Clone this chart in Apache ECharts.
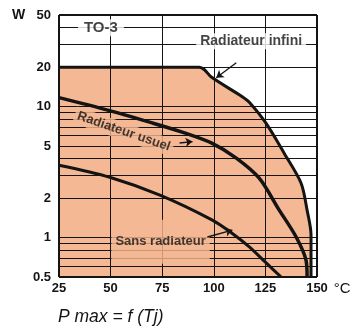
<!DOCTYPE html>
<html><head><meta charset="utf-8">
<script src="https://cdn.jsdelivr.net/npm/echarts@6/dist/echarts.min.js"></script>
<style>html,body{margin:0;padding:0;background:#fff}#c{width:354px;height:329px}</style>
</head><body><div id="c"></div>
<script>
// ---- data ----
const xTicks = [25, 50, 75, 100, 125, 150];
const yTicks = [0.5, 1, 2, 5, 10, 20, 50];
const hGrid = [40, 30, 20, 10, 9, 8, 7, 6, 5, 4, 3, 2, 1, 0.9, 0.8, 0.7, 0.6];
const vGrid = [50, 75, 100, 125];
const infiniT = [25, 93, 95.5, 98.8, 113.8, 117.2, 125.2, 134.1, 142.3, 145.2, 147.1, 147.1];
const infiniP = [20, 20, 19.1, 16.8, 11.9, 10.8, 7.5, 4.4, 2.6, 1.62, 1.05, 0.5];
const usuelT = [25, 48.6, 68.9, 85.8, 98.8, 110.9, 122, 131.7, 139.9, 144.7, 145.2];
const usuelP = [11.7, 9.4, 7.6, 6.3, 5.28, 4.04, 2.84, 1.62, 1.01, 0.67, 0.5];
const sansT = [25, 49.6, 74.2, 99.3, 108.5, 117.2, 125.4, 132.6];
const sansP = [3.57, 2.89, 2.1, 1.36, 1.09, 0.85, 0.64, 0.5];

const zip = (a, b) => a.map((v, i) => [v, b[i]]);
const FONT = "'Liberation Sans', Arial, sans-serif";
const INK = '#141414';
const PEACH = '#f4b894';

const chart = echarts.init(document.getElementById('c'), null, {renderer: 'canvas'});
chart.setOption({
  animation: false,
  backgroundColor: '#fff',
  textStyle: {fontFamily: FONT},
  title: [
    {text: 'P max = f (Tj)', left: 58, top: 308, padding: 0,
     textStyle: {fontStyle: 'italic', fontWeight: 'normal', fontSize: 17.5, color: INK, fontFamily: FONT}},
    {text: 'W', left: 12, top: 8, padding: 0,
     textStyle: {fontWeight: 'bold', fontSize: 14, color: INK, fontFamily: FONT}}
  ],
  grid: {left: 59, top: 15, width: 258, height: 262, show: false},
  xAxis: {
    type: 'value', min: 25, max: 150, interval: 25,
    axisLine: {show: false}, axisTick: {show: false}, splitLine: {show: false},
    axisLabel: {margin: 5, fontSize: 13, fontWeight: 'bold', color: INK, fontFamily: FONT, customValues: xTicks},
    name: '°C', nameLocation: 'end', nameGap: 12,
    nameTextStyle: {fontSize: 15, color: INK, fontFamily: FONT, verticalAlign: 'top', padding: [4, 0, 0, 0]}
  },
  yAxis: {
    type: 'log', logBase: 10, min: 0.5, max: 50,
    axisLine: {show: false}, axisTick: {show: false}, splitLine: {show: false}, minorSplitLine: {show: false},
    axisLabel: {margin: 8, fontSize: 13, fontWeight: 'bold', color: INK, fontFamily: FONT,
                customValues: yTicks, formatter: v => String(v)}
  },
  series: [
    {
      name: 'fill', type: 'line', z: 1, silent: true,
      data: zip(infiniT, infiniP), smooth: 0.3, symbol: 'none',
      lineStyle: {width: 0}, areaStyle: {color: PEACH, opacity: 1, origin: 'start'}
    },
    {
      name: 'grid', type: 'line', z: 2, silent: true, data: [[25, 0.5]], symbol: 'none', lineStyle: {width: 0},
      markLine: {
        z: 2, silent: true, symbol: ['none', 'none'], label: {show: false}, animation: false,
        lineStyle: {color: INK, width: 1, type: 'solid'},
        emphasis: {disabled: true},
        data: [...hGrid.map(v => ({yAxis: v})), ...vGrid.map(v => ({xAxis: v}))]
      }
    },
    {
      name: 'notes', type: 'scatter', z: 4, silent: true, symbolSize: 1,
      itemStyle: {color: 'rgba(0,0,0,0)'},
      label: {show: true, position: 'inside', color: INK, fontSize: 14, fontWeight: 'bold', fontFamily: FONT},
      labelLayout: {hideOverlap: false},
      data: [
        {value: [45.3, 40], label: {formatter: 'TO-3', fontSize: 15, backgroundColor: '#fff', padding: [1, 6]}},
        {value: [118.1, 31.5], label: {formatter: 'Radiateur infini', backgroundColor: '#fff', padding: [1, 4]}},
        {value: [56.4, 6.45], label: {formatter: 'Radiateur usuel', fontSize: 13, rotate: -19, backgroundColor: PEACH, padding: [2, 3]}},
        {value: [74.2, 0.93], label: {formatter: 'Sans radiateur', fontSize: 13, backgroundColor: PEACH, padding: [3, 4, 28, 4]}}
      ]
    },
    {name: 'Radiateur infini', type: 'line', z: 5, silent: true, data: zip(infiniT, infiniP), smooth: 0.3, symbol: 'none',
     lineStyle: {color: INK, width: 3}},
    {name: 'Radiateur usuel', type: 'line', z: 5, silent: true, data: zip(usuelT, usuelP), smooth: 0.3, symbol: 'none',
     lineStyle: {color: INK, width: 3.5}},
    {name: 'Sans radiateur', type: 'line', z: 5, silent: true, data: zip(sansT, sansP), smooth: 0.3, symbol: 'none',
     lineStyle: {color: INK, width: 3}},
    {
      name: 'frame', type: 'line', z: 6, silent: true, data: [[25, 0.5]], symbol: 'none', lineStyle: {width: 0},
      markLine: {
        z: 6, silent: true, symbol: ['none', 'none'], label: {show: false}, animation: false,
        lineStyle: {color: INK, width: 2, type: 'solid'}, emphasis: {disabled: true},
        data: [{xAxis: 25}, {xAxis: 150}, {yAxis: 0.5}, {yAxis: 50}]
      }
    },
    {
      name: 'arrows', type: 'line', z: 6, silent: true, data: [[25, 0.5]], symbol: 'none', lineStyle: {width: 0},
      markLine: {
        z: 6, silent: true, symbol: ['none', 'arrow'], symbolSize: 7, label: {show: false}, animation: false,
        lineStyle: {color: INK, width: 1.3, type: 'solid'}, emphasis: {disabled: true},
        data: [
          [{coord: [110.9, 21.6]}, {coord: [101.2, 16.6]}],
          [{coord: [83.4, 5.27]}, {coord: [89.7, 5.4]}],
          [{coord: [96.9, 1.01]}, {coord: [109, 1.14]}]
        ]
      }
    }
  ]
});
</script>
</body></html>
